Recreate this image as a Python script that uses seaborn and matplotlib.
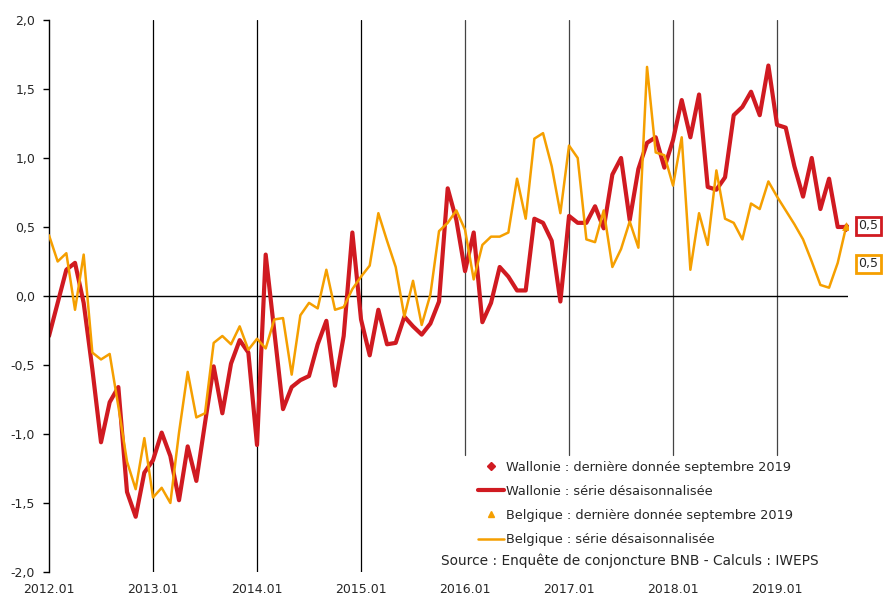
import numpy as np
import pandas as pd
import matplotlib.pyplot as plt
from matplotlib.lines import Line2D
import seaborn as sns

# Séries mensuelles 2012.01 -> 2019.09
wallonie = [-0.29, -0.05, 0.19, 0.24, -0.05, -0.53, -1.06, -0.77, -0.66, -1.42,
            -1.60, -1.28, -1.19, -0.99, -1.16, -1.48, -1.09, -1.34, -0.92, -0.51,
            -0.85, -0.49, -0.32, -0.41, -1.08, 0.30, -0.26, -0.82, -0.66, -0.61,
            -0.58, -0.35, -0.18, -0.65, -0.29, 0.46, -0.17, -0.43, -0.10, -0.35,
            -0.34, -0.15, -0.22, -0.28, -0.20, -0.04, 0.78, 0.55, 0.18, 0.46,
            -0.19, -0.05, 0.21, 0.14, 0.04, 0.04, 0.56, 0.53, 0.40, -0.04,
            0.58, 0.53, 0.53, 0.65, 0.49, 0.88, 1.00, 0.55, 0.92, 1.11,
            1.15, 0.93, 1.13, 1.42, 1.15, 1.46, 0.79, 0.77, 0.86, 1.31,
            1.37, 1.48, 1.31, 1.67, 1.24, 1.22, 0.94, 0.72, 1.00, 0.63,
            0.85, 0.50, 0.50]
belgique = [0.44, 0.25, 0.31, -0.10, 0.30, -0.41, -0.46, -0.42, -0.80, -1.20,
            -1.40, -1.03, -1.46, -1.39, -1.50, -0.99, -0.55, -0.88, -0.85, -0.34,
            -0.29, -0.35, -0.22, -0.39, -0.31, -0.38, -0.17, -0.16, -0.57, -0.14,
            -0.05, -0.09, 0.19, -0.10, -0.08, 0.05, 0.14, 0.22, 0.60, 0.40,
            0.21, -0.15, 0.11, -0.21, 0.01, 0.47, 0.53, 0.62, 0.48, 0.12,
            0.37, 0.43, 0.43, 0.46, 0.85, 0.56, 1.14, 1.18, 0.94, 0.60,
            1.09, 1.00, 0.41, 0.39, 0.62, 0.21, 0.34, 0.54, 0.35, 1.66,
            1.04, 1.02, 0.80, 1.15, 0.19, 0.60, 0.37, 0.91, 0.56, 0.53,
            0.41, 0.67, 0.63, 0.83, 0.72, 0.62, 0.52, 0.41, 0.25, 0.08,
            0.06, 0.24, 0.51]
annees = ['2012.01', '2013.01', '2014.01', '2015.01',
          '2016.01', '2017.01', '2018.01', '2019.01']

rouge = '#d01a21'
orange = '#f59f00'

mois = np.arange(len(wallonie))
df = pd.DataFrame({'mois': mois, 'Wallonie': wallonie, 'Belgique': belgique})
dernier = df.iloc[[-1]]

sns.set_style('white')
plt.rcParams['font.family'] = ['DejaVu Sans']

fig = plt.figure(figsize=(8.83, 5.95), dpi=100)
ax = fig.add_axes([0.0555, 0.0387, 0.905, 0.9277])

# Lignes verticales (début d'année) et ligne du zéro
for k in range(1, len(annees)):
    ax.axvline(12 * k, ymin=0.212 if k >= 4 else 0,
               color='black' if k < 4 else '#444444', lw=0.9, zorder=1)
ax.axhline(0, color='black', lw=1, zorder=1)

sns.lineplot(data=df, x='mois', y='Wallonie', color=rouge, lw=3, ax=ax, zorder=2)
sns.lineplot(data=df, x='mois', y='Belgique', color=orange, lw=1.8, ax=ax, zorder=3)
sns.scatterplot(data=dernier, x='mois', y='Wallonie', color=rouge, marker='D',
                s=22, linewidth=0, ax=ax, zorder=4)
sns.scatterplot(data=dernier, x='mois', y='Belgique', color=orange, marker='^',
                s=40, linewidth=0, ax=ax, zorder=5)

# Étiquettes de la dernière valeur
ax.annotate(f'{wallonie[-1]:.1f}'.replace('.', ','), xy=(mois[-1], wallonie[-1]),
            xytext=(12, 1), textcoords='offset pixels', va='center', ha='left',
            fontsize=9, bbox=dict(boxstyle='square,pad=0.2', fc='white', ec=rouge, lw=2))
ax.annotate(f'{belgique[-1]:.1f}'.replace('.', ','), xy=(mois[-1], belgique[-1]),
            xytext=(12, -38), textcoords='offset pixels', va='center', ha='left',
            fontsize=9, bbox=dict(boxstyle='square,pad=0.2', fc='white', ec=orange, lw=2))

ax.set_xlim(0, 92.2)
ax.set_ylim(-2, 2)
ax.set_xticks(range(0, 12 * len(annees), 12))
ax.set_xticklabels(annees)
yt = np.arange(-2, 2.01, 0.5)
ax.set_yticks(yt)
ax.set_yticklabels([f'{v:.1f}'.replace('.', ',') for v in yt])
ax.set_xlabel('')
ax.set_ylabel('')
ax.tick_params(axis='x', length=0, pad=8, labelsize=9)
ax.tick_params(axis='y', length=4, width=1, pad=6, labelsize=9, left=True, color='black')
for s in ['top', 'right', 'bottom']:
    ax.spines[s].set_visible(False)
ax.spines['left'].set_color('black')
ax.spines['left'].set_linewidth(1)

handles = [
    Line2D([], [], color=rouge, marker='D', markersize=4, linestyle='none'),
    Line2D([], [], color=rouge, lw=3),
    Line2D([], [], color=orange, marker='^', markersize=5, linestyle='none'),
    Line2D([], [], color=orange, lw=1.8),
]
labels = ['Wallonie : dernière donnée septembre 2019',
          'Wallonie : série désaisonnalisée',
          'Belgique : dernière donnée septembre 2019',
          'Belgique : série désaisonnalisée']
ax.legend(handles, labels, loc='upper left', bbox_to_anchor=(0.5413, 0.226),
          bbox_transform=fig.transFigure, frameon=False, fontsize=9.3,
          handlelength=2.0, handletextpad=0.15, labelspacing=0.87,
          borderpad=0, borderaxespad=0)
fig.text(0.4994, 0.0571, 'Source : Enquête de conjoncture BNB - Calculs : IWEPS',
         ha='left', va='center', fontsize=9.9)

fig.savefig('out.png', dpi=100)
